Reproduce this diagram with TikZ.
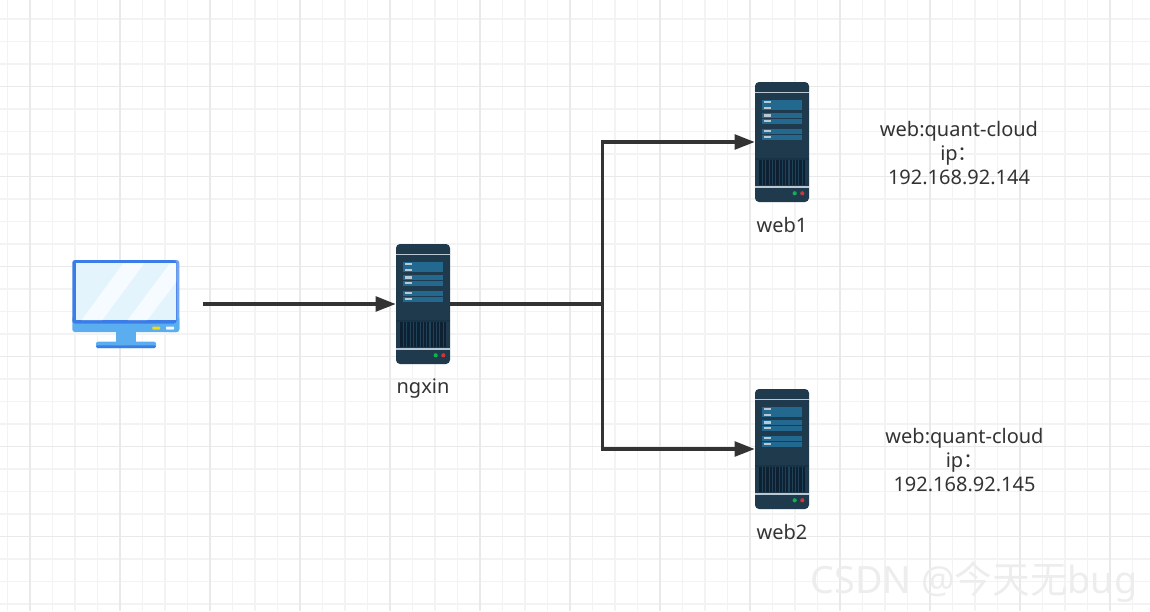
\documentclass[tikz,border=0pt]{standalone}
\usepackage{fontspec}
\setmainfont{Noto Sans}
\newfontfamily\cjkwm{Noto Sans CJK SC}
\usepackage{xcolor}
\usetikzlibrary{positioning, arrows.meta, calc}
\definecolor{gridminor}{HTML}{F3F3F3}
\definecolor{gridmajor}{HTML}{E9E9E9}
\definecolor{linecol}{HTML}{333333}
\definecolor{srvbody}{HTML}{1E3A4C}
\definecolor{srvband}{HTML}{173345}
\definecolor{srvrow}{HTML}{23688F}
\definecolor{srvline}{HTML}{B9C8D3}
\definecolor{srvvent}{HTML}{0D2133}
\definecolor{srvstripe}{HTML}{1F4258}
\definecolor{pcblue}{HTML}{3B7DE8}
\definecolor{pcsky}{HTML}{5AAEF0}
\definecolor{pcscreen}{HTML}{E4F4FD}
\definecolor{pcshine}{HTML}{F6FBFF}
\definecolor{wmark}{HTML}{EDEDED}
\tikzset{
	serverbox/.style={fill=srvbody, rounded corners=3pt, minimum width=40.5pt, minimum height=90pt, inner sep=0pt},
	pcbox/.style={minimum width=80.25pt, minimum height=66pt, inner sep=0pt},
	caption/.style={text=linecol, font=\fontsize{15}{18}\selectfont, align=center, inner sep=0pt},
	link/.style={draw=linecol, line width=2.5pt},
	arrowlink/.style={link, -{Triangle[length=15pt, width=11pt]}},
	serverpic/.pic={
		\fill[srvline] (-27,-50.3) rectangle (27,-48.9);
		\foreach \ya/\yb in {-42.3/-37.3, -37/-31.7, -29/-24, -23.3/-18.3, -13.3/-8, -7.3/-2.3} {
			\fill[srvrow] (-19.7,\ya) rectangle (19.7,\yb);
			\fill[srvline] (-18,{(\ya+\yb)/2-1.1}) rectangle (-10.7,{(\ya+\yb)/2+1.1});
		}
		\fill[srvband] (-27,16) rectangle (27,17.5);
		\fill[srvvent] (-23,18.3) rectangle (22.7,42.7);
		\foreach \xv in {-20,-16.7,...,21} {
			\fill[srvstripe] (\xv,18.3) rectangle (\xv+1.1,42.7);
		}
		\fill[srvline] (-27,44.2) rectangle (27,45.8);
		\fill[green!45!teal!90!gray] (12.7,51.3) circle (2.1);
		\fill[red!70!black!70!pink] (20.3,51.3) circle (2.1);
	},
	pcpic/.pic={
		\fill[pcsky] (-10,26) rectangle (10,38);
		\fill[pcsky, rounded corners=1.5pt] (-30,37.7) rectangle (30,44);
		\fill[pcblue, rounded corners=1pt] (-30,41.3) rectangle (30,44);
		\fill[pcblue!70!white, rounded corners=2pt] (40,-44) rectangle (53.3,28);
		\fill[pcsky, rounded corners=2pt] (-53.7,12) rectangle (53.3,28);
		\fill[pcblue, rounded corners=2pt] (-53.7,-44) rectangle (50.5,19.5);
		\fill[pcscreen] (-50.3,-40.7) rectangle (50,16);
		\fill[pcshine] (-2.7,-40.7) -- (18.3,-40.7) -- (-23.7,16) -- (-44.3,16) -- cycle;
		\fill[pcshine] (44,-40.7) -- (50,-40.7) -- (50,-21.7) -- (21.3,16) -- (1.7,16) -- cycle;
		\fill[yellow!75!orange, rounded corners=0.5pt] (26.3,22.5) rectangle (34,25.5);
		\fill[white!90!pcsky, rounded corners=0.5pt] (40,22.5) rectangle (48,25.5);
	},
}
\begin{document}
\begin{tikzpicture}[x=0.75pt, y=-0.75pt]
	\useasboundingbox (0,0) rectangle (1150,611);
	% grid
	\foreach \xg in {7.5,30,...,1150} {
		\draw[gridminor, line width=1.3pt] (\xg,0) -- (\xg,611);
	}
	\foreach \yg in {19,41.5,...,611} {
		\draw[gridminor, line width=1.3pt] (0,\yg) -- (1150,\yg);
	}
	\foreach \xg in {30,120,...,1150} {
		\draw[gridmajor, line width=1.3pt] (\xg,0) -- (\xg,611);
	}
	\foreach \yg in {86.5,176.5,...,611} {
		\draw[gridmajor, line width=1.3pt] (0,\yg) -- (1150,\yg);
	}

	% machines
	\node[pcbox] (pc) at (126,304) {};
	\pic at (pc) {pcpic};
	\node[serverbox] (ngxin) at (423,304) {};
	\pic at (ngxin) {serverpic};
	\node[serverbox] (web1) at (782,142) {};
	\pic at (web1) {serverpic};
	\node[serverbox] (web2) at (782,449) {};
	\pic at (web2) {serverpic};

	% labels
	\node[caption, below=11pt of ngxin] (ngxinlabel) {ngxin};
	\node[caption, below=11pt of web1] (web1label) {web1};
	\node[caption, below=11pt of web2] (web2label) {web2};
	\node[caption] (web1info) at (959,153) {web:quant-cloud\\ip{\cjkwm ：}\\192.168.92.144};
	\node[caption] (web2info) at (964.5,460.5) {web:quant-cloud\\ip{\cjkwm ：}\\192.168.92.145};
	\node[text=wmark, font=\fontsize{28.2}{32}\selectfont, inner sep=0pt] (wmarklabel) at (974,582) {CSDN @{\cjkwm 今天无}bug};

	% connectors
	\coordinate (pcout) at (203,304);
	\coordinate (fork) at (602.5,304);
	\draw[arrowlink] (pcout) -- (ngxin.west);
	\draw[link] (ngxin.east) -- (fork);
	\draw[arrowlink] (fork) |- (web1.west);
	\draw[arrowlink] (fork) |- (web2.west);
\end{tikzpicture}
\end{document}
